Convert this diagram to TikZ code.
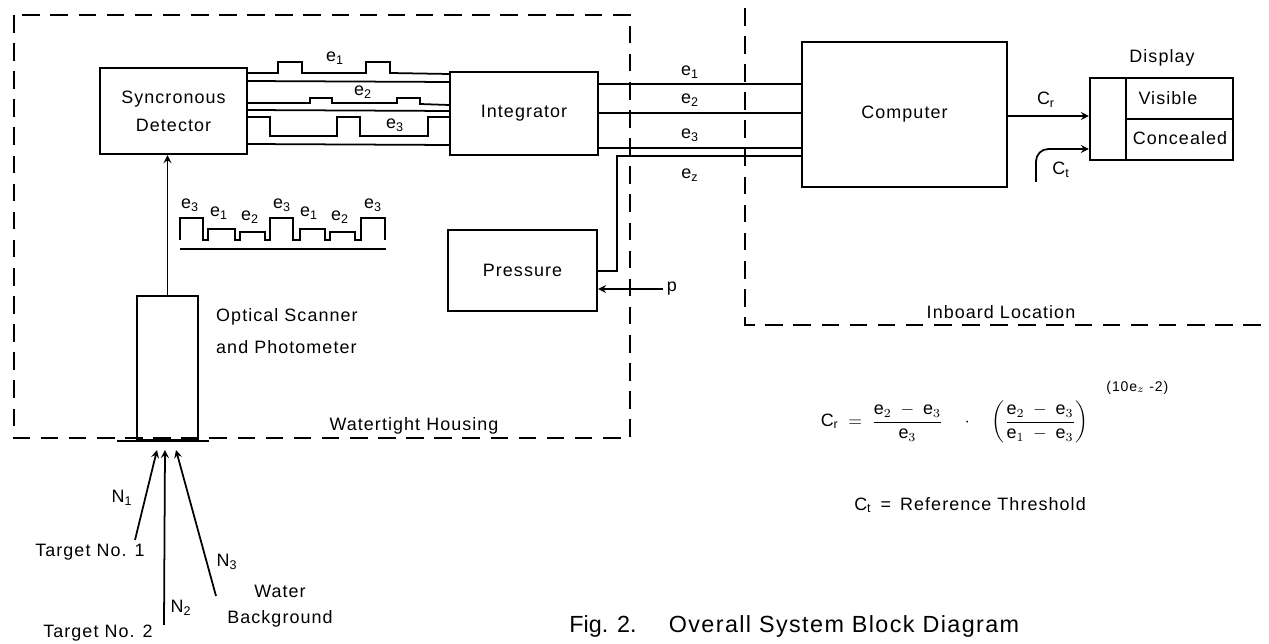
\documentclass[tikz,border=0pt]{standalone}
\usepackage{fontspec}
\setmainfont{Liberation Sans}[LetterSpace=6]
\usetikzlibrary{positioning}
\newcommand{\esig}[1]{e\textsubscript{#1}}

\begin{document}
\begin{tikzpicture}[x=0.02cm, y=-0.02cm, >=stealth,
    font=\fontsize{10.2}{12}\selectfont,
    box/.style={draw, line width=1.3pt, inner sep=0pt},
    sig/.style={line width=1pt},
    housing/.style={line width=1.1pt, dash pattern=on 10pt off 6pt}]
        \useasboundingbox (0,0) rectangle (1269,644);

        % Recintos
        \draw[housing] (14,15) rectangle (630,438);
        \draw[housing] (745,8) -- (745,325) -- (1269,325);

        % Bloques
        \node[box, minimum width=2.94cm, minimum height=1.72cm, align=center] (det) at (173.5,111) {Syncronous\\[4pt]Detector};
        \node[box, minimum width=2.96cm, minimum height=1.66cm] (integ) at (524,113.5) {Integrator};
        \node[box, minimum width=4.1cm, minimum height=2.9cm] (comp) at (904.5,114.5) {Computer};
        \node[box, minimum width=2.86cm, minimum height=1.64cm] (disp) at (1161.5,119) {};
        \node[box, minimum width=2.98cm, minimum height=1.62cm] (press) at (522.5,270.5) {Pressure};
        \node[box, minimum width=1.22cm, minimum height=2.88cm] (scan) at (167.5,368) {};
        \draw[box] ([xshift=-0.38cm]scan.south west) -- ([xshift=0.2cm]scan.south east);

        % Display
        \draw[box] ([xshift=0.74cm]disp.north west) -- ([xshift=0.74cm]disp.south west);
        \draw[box] ([xshift=0.74cm]disp.west) -- (disp.east);
        \node (vis) at (1168,98) {Visible};
        \node (conc) at (1180,138) {Concealed};
        \node (dlabel) at (1162,58) {Display};

        % Canales detector - integrador
        \draw[sig] (det.east |- 0,73) -- (278,73) -- (278,62) -- (302,62) -- (302,73) -- (366,73)
            -- (366,62) -- (390,62) -- (390,73) -- (integ.west |- 0,74);
        \draw[sig] (det.east |- 0,81) -- (integ.west |- 0,82);
        \draw[sig] (det.east |- 0,103) -- (310,103) -- (310,98) -- (332,98) -- (332,103) -- (397,103)
            -- (397,98) -- (420,98) -- (420,104) -- (integ.west |- 0,105);
        \draw[sig] (det.east |- 0,110) -- (integ.west |- 0,111);
        \draw[sig] (det.east |- 0,117) -- (270,117) -- (270,136) -- (337,136) -- (337,117) -- (360,117)
            -- (360,136) -- (428,136) -- (428,117) -- (integ.west |- 0,117);
        \draw[sig] (det.east |- 0,144) -- (integ.west |- 0,145);
        \node (c1) at (335,58) {\esig{1}};
        \node (c2) at (363,92) {\esig{2}};
        \node (c3) at (395,125) {\esig{3}};

        % Integrador - computador
        \draw[sig] (integ.east |- 0,84) -- (comp.west |- 0,84);
        \draw[sig] (integ.east |- 0,113) -- (comp.west |- 0,113);
        \draw[sig] (integ.east |- 0,148) -- (comp.west |- 0,148);
        \draw[sig] (press.east |- 0,271) -- (617,271) -- (617,156) -- (comp.west |- 0,156);
        \node (l1) at (690,72) {\esig{1}};
        \node (l2) at (690,100) {\esig{2}};
        \node (l3) at (690,135) {\esig{3}};
        \node (lz) at (690,175) {\esig{z}};

        % Presion
        \coordinate (pin) at (663,289);
        \draw[sig, ->] (pin) -- (press.east |- pin);
        \node[right, inner sep=2pt] (plabel) at (pin) {p};

        % Salidas
        \draw[sig, ->] (comp.east |- 0,116) -- (disp.west |- 0,116);
        \node (cr) at (1046,100) {C\textsubscript{r}};
        \coordinate (ctin) at (1036,182);
        \draw[sig, ->, rounded corners=7pt] (ctin) |- (disp.west |- 0,149);
        \node (ct) at (1061,170) {C\textsubscript{t}};

        % Barrido optico
        \draw[sig, ->] (scan.north) -- (scan.north |- det.south);
        \draw[sig] (180,240) |- (203,218) |- (208,240) |- (235,229) |- (240,240) |- (265,232) |- (270,240)
            |- (293,218) |- (300,240) |- (325,229) |- (330,240) |- (355,232) |- (361,240) |- (385,218) -- (385,240);
        \draw[sig] (180,249) -- (386,249);
        \node (w1) at (190,205) {\esig{3}};
        \node (w2) at (219,213) {\esig{1}};
        \node (w3) at (250,217) {\esig{2}};
        \node (w4) at (282,205) {\esig{3}};
        \node (w5) at (309,213) {\esig{1}};
        \node (w6) at (340,217) {\esig{2}};
        \node (w7) at (373,205) {\esig{3}};
        \node[right, align=left] (scanlabel) at (210,331) {Optical Scanner\\[6pt]and Photometer};

        \node (wh) at (414,426) {Watertight Housing};
        \node (ib) at (1001,312) {Inboard Location};

        % Blancos
        \coordinate (n1s) at (135,540);
        \coordinate (n1e) at (157,450);
        \coordinate (n2s) at (164,625);
        \coordinate (n2e) at (165,450);
        \coordinate (n3s) at (216,596);
        \coordinate (n3e) at (176,450);
        \draw[sig, ->] (n1s) -- (n1e);
        \draw[sig, ->] (n2s) -- (n2e);
        \draw[sig, ->] (n3s) -- (n3e);
        \node (N1) at (122,498) {N\textsubscript{1}};
        \node (N2) at (181,608) {N\textsubscript{2}};
        \node (N3) at (227,562) {N\textsubscript{3}};
        \node (t1) at (90,552) {Target No. 1};
        \node (t2) at (98,633) {Target No. 2};
        \node[align=center] (wb) at (280,606) {Water\\[3pt]Background};

        % Formulas
        \node (form) at (995,412) {$\displaystyle \mbox{C}_{\mbox{\scriptsize r}} \;=\; \frac{\mbox{e}_2 \;-\; \mbox{e}_3}{\mbox{e}_3}
            \quad\cdot\quad \left(\frac{\mbox{e}_2 \;-\; \mbox{e}_3}{\mbox{e}_1 \;-\; \mbox{e}_3}\right)^{\quad\raisebox{8pt}{\footnotesize (10e$_z$ -2)}}$};
        \node (thr) at (970,505) {C\textsubscript{t} \,=\, Reference Threshold};
        \node[font=\fontsize{13.3}{15}\selectfont\addfontfeature{LetterSpace=0}] (fig) at (603,626) {Fig. 2.};
        \node[font=\fontsize{13.3}{15}\selectfont] (cap) at (844,626) {Overall System Block Diagram};
    \end{tikzpicture}
\end{document}
